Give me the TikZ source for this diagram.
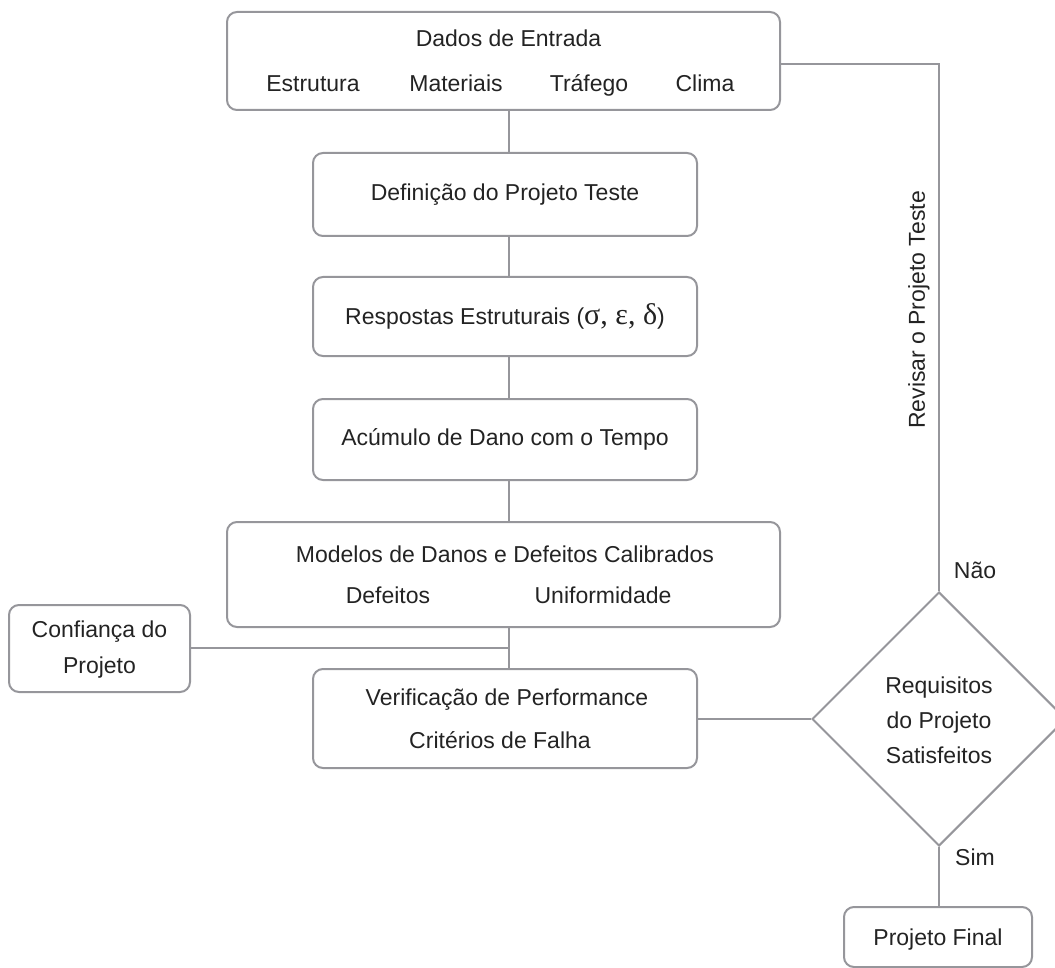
\documentclass[tikz,border=0pt]{standalone}
\usepackage{fontspec}
\setmainfont{Liberation Sans}
\newfontfamily\grk{Liberation Serif}
\usetikzlibrary{shapes.geometric}
\definecolor{lc}{RGB}{150,150,155}
\definecolor{tc}{RGB}{35,35,35}
\begin{document}
\begin{tikzpicture}[x=1pt,y=-1pt,
  box/.style={draw=lc,line width=2pt,rounded corners=10pt,minimum width=#1,inner sep=0pt,font=\fontsize{23}{27}\selectfont,text=tc},
  lbl/.style={font=\fontsize{23}{27}\selectfont,text=tc,inner sep=0pt,anchor=base},
  conn/.style={draw=lc,line width=2pt}]
\useasboundingbox (0,0) rectangle (1055,968);
\clip (0,0) rectangle (1055,968);
% boxes
\node[box=553pt,minimum height=98pt] (dados) at (503.5,61) {};
\node[lbl] at (508.5,47) {Dados de Entrada};
\node[lbl] at (313,92) {Estrutura};
\node[lbl] at (456,92) {Materiais};
\node[lbl] at (589,92) {Tráfego};
\node[lbl] at (705,92) {Clima};
\node[box=384pt,minimum height=83pt] (def) at (505,194.5) {Definição do Projeto Teste};
\node[box=384pt,minimum height=79pt] (resp) at (505,316.5) {Respostas Estruturais ({\grk\fontsize{30}{30}\selectfont σ, ε, δ})};
\node[box=384pt,minimum height=81pt] (acum) at (505,439.5) {Acúmulo de Dano com o Tempo};
\node[box=553pt,minimum height=105pt] (mod) at (503.5,574.5) {};
\node[lbl] at (505,562) {Modelos de Danos e Defeitos Calibrados};
\node[lbl] at (388,603) {Defeitos};
\node[lbl] at (603,603) {Uniformidade};
\node[box=181pt,minimum height=87pt] (conf) at (99.5,648.5) {};
\node[lbl] at (99.5,637) {Confiança do};
\node[lbl] at (99.5,673) {Projeto};
\node[box=384pt,minimum height=99pt] (ver) at (505,718.5) {};
\node[lbl] at (507,705) {Verificação de Performance};
\node[lbl] at (500,748) {Critérios de Falha};
\node[draw=lc,line width=2pt,diamond,minimum width=254pt,minimum height=254pt,inner sep=0pt] (req) at (939,719) {};
\node[lbl] at (939,693) {Requisitos};
\node[lbl] at (939,728) {do Projeto};
\node[lbl] at (939,763) {Satisfeitos};
\node[box=188pt,minimum height=60pt] (final) at (938,937) {};
\node[lbl] at (938,945) {Projeto Final};
% connectors
\coordinate (j1) at (509,648);
\draw[conn] (dados.south -| j1) -- (def.north -| j1);
\draw[conn] (def.south -| j1) -- (resp.north -| j1);
\draw[conn] (resp.south -| j1) -- (acum.north -| j1);
\draw[conn] (acum.south -| j1) -- (mod.north -| j1);
\draw[conn] (mod.south -| j1) -- (ver.north -| j1);
\draw[conn] (conf.east |- j1) -- (j1);
\draw[conn] (ver.east |- req.west) -- (req.west);
\draw[conn] (req.south) -- (final.north -| req.south);
\coordinate (tr) at (939,64);
\draw[conn] (req.north) -- (tr) -- (dados.east |- tr);
\node[lbl] at (975,578) {Não};
\node[lbl] at (975,865) {Sim};
\node[font=\fontsize{23}{27}\selectfont,text=tc,inner sep=0pt,rotate=90] at (919,310) {Revisar o Projeto Teste};
\end{tikzpicture}
\end{document}
